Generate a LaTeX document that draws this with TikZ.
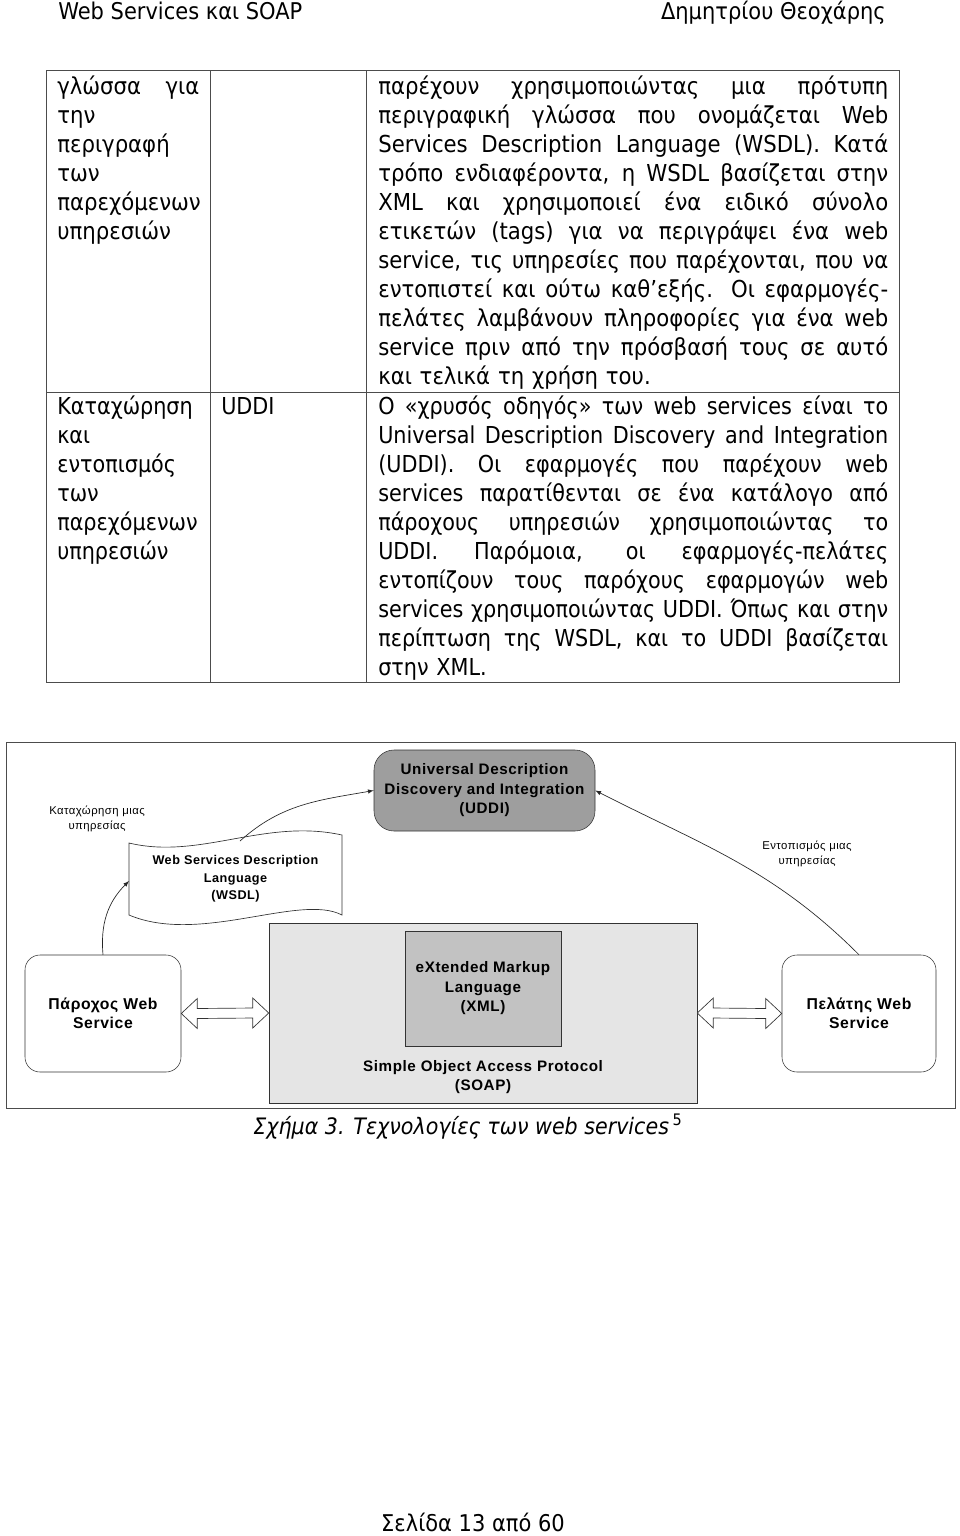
\documentclass[tikz,border=0pt]{standalone}
\usepackage{fontspec}
\setmainfont{DejaVu Sans}[FakeStretch=0.91]
\newfontfamily\narrowfont{DejaVu Sans}[FakeStretch=0.89]
\newfontfamily\figfont{Liberation Sans}[LetterSpace=4]
\usetikzlibrary{arrows}
\usetikzlibrary{calc}
\newlength{\px}
\setlength{\px}{0.75pt}
% one justified line of a table cell
\newcommand{\jl}[2][510\px]{{\spaceskip=0pt\xspaceskip=0pt\makebox[#1][s]{#2}}\\}
\definecolor{uddigray}{gray}{0.62}
\definecolor{xmlgray}{gray}{0.76}
\definecolor{soapgray}{gray}{0.9}
\definecolor{rulegray}{gray}{0.3}

\begin{document}
\begin{tikzpicture}[x=\px, y=-\px,
    body/.style={anchor=base west, inner sep=0pt, font=\fontsize{17.5}{21.75}\selectfont},
    narrowbody/.style={body, font=\narrowfont\fontsize{17.5}{21.75}\selectfont},
    figtext/.style={font=\figfont\bfseries\fontsize{11.4}{14.6}\selectfont, align=center},
    smalltext/.style={font=\figfont\fontsize{8.5}{11}\selectfont, align=center},
    flow/.style={-latex, draw=black!85, line width=0.5pt},
    dblarrow/.style={draw=black!80, fill=white, line width=0.5pt}]
    \useasboundingbox[fill=white] (0,0) rectangle (960,1536);

    % page head and foot
    \node[anchor=base west, inner sep=0pt, font=\fontsize{17.3}{20}\selectfont] (headl) at (58,19) {Web Services και SOAP};
    \node[anchor=base east, inner sep=0pt, font=\fontsize{17.3}{20}\selectfont] (headr) at (886,19) {Δημητρίου Θεοχάρης};
    \node[anchor=base, inner sep=0pt, font=\fontsize{17.3}{20}\selectfont] (foot) at (473,1531) {Σελίδα 13 από 60};

    % table
    \draw[rulegray, line width=1\px] (46,70) rectangle (899,682);
    \draw[rulegray, line width=1\px] (46,392) -- (899,392);
    \draw[rulegray, line width=1\px] (210,70) -- (210,682);
    \draw[rulegray, line width=1\px] (366,70) -- (366,682);

    \node[body, text width=142\px] (lang) at (57,94) {\jl[142\px]{γλώσσα για}την\\περιγραφή\\των\\παρεχόμενων\\υπηρεσιών};
    \node[body, text width=510\px] (wsdltxt) at (378,94) {%
      \jl{παρέχουν χρησιμοποιώντας μια πρότυπη}%
      \jl{περιγραφική γλώσσα που ονομάζεται Web}%
      \jl{Services Description Language (WSDL). Κατά}%
      \jl{τρόπο ενδιαφέροντα, η WSDL βασίζεται στην}%
      \jl{XML και χρησιμοποιεί ένα ειδικό σύνολο}%
      \jl{ετικετών (tags) για να περιγράψει ένα web}%
      \jl{service, τις υπηρεσίες που παρέχονται, που να}%
      \jl{εντοπιστεί και ούτω καθ’εξής. Οι εφαρμογές-}%
      \jl{πελάτες λαμβάνουν πληροφορίες για ένα web}%
      \jl{service πριν από την πρόσβασή τους σε αυτό}%
      και τελικά τη χρήση του.};

    \node[narrowbody, text width=142\px] (reg) at (57,414) {Καταχώρηση\\και\\εντοπισμός\\των\\παρεχόμενων\\υπηρεσιών};
    \node[narrowbody] (uddiname) at (221,414) {UDDI};
    \node[narrowbody, text width=510\px] (uddetxt) at (378,414) {%
      \jl{Ο «χρυσός οδηγός» των web services είναι το}%
      \jl{Universal Description Discovery and Integration}%
      \jl{(UDDI). Οι εφαρμογές που παρέχουν web}%
      \jl{services παρατίθενται σε ένα κατάλογο από}%
      \jl{πάροχους υπηρεσιών χρησιμοποιώντας το}%
      \jl{UDDI. Παρόμοια, οι εφαρμογές-πελάτες}%
      \jl{εντοπίζουν τους παρόχους εφαρμογών web}%
      \jl{services χρησιμοποιώντας UDDI. Όπως και στην}%
      \jl{περίπτωση της WSDL, και το UDDI βασίζεται}%
      στην XML.};

    % figure
    \draw[rulegray, line width=1\px] (6,742) rectangle (955,1108);

    \node[figtext, draw=black!80, fill=uddigray, rounded corners=20\px,
      minimum width=221\px, minimum height=81\px] (uddi) at (484.5,790.5)
      {Universal Description\\Discovery and Integration\\(UDDI)};

    \node[draw=black!80, fill=soapgray, minimum width=428\px, minimum height=180\px] (soap) at (483,1013) {};
    \node[figtext, draw=black!80, fill=xmlgray, minimum width=156\px, minimum height=115\px] (xml) at (483,988.5)
      {eXtended Markup\\Language\\(XML)};
    \node[figtext] (soaplbl) at (483,1077) {Simple Object Access Protocol\\(SOAP)};

    \node[figtext, font=\figfont\bfseries\fontsize{11.8}{14.3}\selectfont, draw=black!80, fill=white, rounded corners=15\px,
      minimum width=156\px, minimum height=117\px] (prov) at (103,1013.5) {Πάροχος Web\\Service};
    \node[figtext, font=\figfont\bfseries\fontsize{11.8}{14.3}\selectfont, draw=black!80, fill=white, rounded corners=15\px,
      minimum width=154\px, minimum height=117\px] (cli) at (859,1013.5) {Πελάτης Web\\Service};

    % wavy document
    \node[figtext, font=\figfont\bfseries\fontsize{9.5}{13}\selectfont, minimum width=213\px, minimum height=72\px] (wsdl) at (235.5,879)
      {Web Services Description\\Language\\(WSDL)};
    \draw[black!80, line width=0.5pt] (129,843) .. controls (200,860) and (265,818) .. (342,835)
      -- (342,915) .. controls (300,893) and (200,945) .. (129,915) -- cycle;
    \coordinate (wsdltop) at (240,841);
    \coordinate (wsdlleft) at (129,881);

    \node[smalltext] (regl) at (97,819) {Καταχώρηση μιας\\υπηρεσίας};
    \node[smalltext] (findl) at (807,854) {Εντοπισμός μιας\\υπηρεσίας};

    \draw[flow] (wsdltop) to[out=42, in=190] (uddi.west);
    \draw[flow] (prov.north) to[out=95, in=225] (wsdlleft);
    \draw[flow] (cli.north) to[out=135, in=-27] (uddi.east);

    \draw[dblarrow] (prov.east) -- ++(16,-15) -- ++(0,10) -- ($(soap.west)+(-16,-5)$) -- ++(0,-10)
      -- (soap.west) -- ++(-16,15) -- ++(0,-10) -- ($(prov.east)+(16,5)$) -- ++(0,10) -- cycle;
    \draw[dblarrow] (soap.east) -- ++(16,-15) -- ++(0,10) -- ($(cli.west)+(-16,-5)$) -- ++(0,-10)
      -- (cli.west) -- ++(-16,15) -- ++(0,-10) -- ($(soap.east)+(16,5)$) -- ++(0,10) -- cycle;

    \node[anchor=base, inner sep=0pt, font=\fontsize{17}{20}\selectfont] (caption) at (468,1134)
      {\itshape Σχήμα 3. Τεχνολογίες των web services\,\textsuperscript{\upshape 5}};
\end{tikzpicture}
\end{document}
